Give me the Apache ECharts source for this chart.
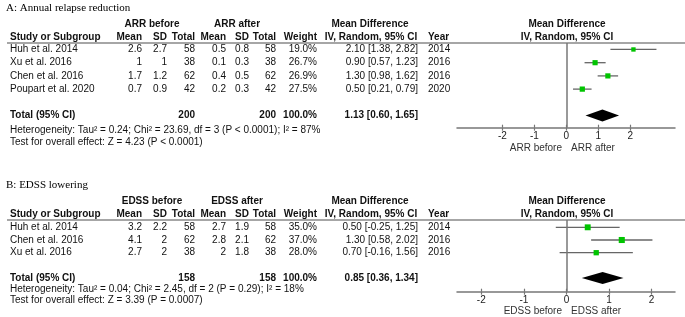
<!DOCTYPE html>
<html>
<head>
<meta charset="utf-8">
<script src="https://cdn.jsdelivr.net/npm/echarts@6/dist/echarts.min.js"></script>
<style>
  html, body { margin: 0; padding: 0; background: #fff; }
  #main { width: 685px; height: 317px; }
</style>
</head>
<body>
<div id="main"></div>
<script>
// ---- A: Annual relapse reduction ----
var studiesA = ['Huh et al. 2014', 'Xu et al. 2016', 'Chen et al. 2016', 'Poupart et al. 2020'];
var meanBeforeA = [2.6, 1, 1.7, 0.7];
var sdBeforeA = [2.7, 1, 1.2, 0.9];
var nBeforeA = [58, 38, 62, 42];
var meanAfterA = [0.5, 0.1, 0.4, 0.2];
var sdAfterA = [0.8, 0.3, 0.5, 0.3];
var nAfterA = [58, 38, 62, 42];
var weightA = [19.0, 26.7, 26.9, 27.5];
var mdA = [2.10, 0.90, 1.30, 0.50];
var loA = [1.38, 0.57, 0.98, 0.21];
var hiA = [2.82, 1.23, 1.62, 0.79];
var yearA = [2014, 2016, 2016, 2020];
var totalNA = [200, 200];
var totalA = [1.13, 0.60, 1.65];
var hetA = 'Heterogeneity: Tau\u00b2 = 0.24; Chi\u00b2 = 23.69, df = 3 (P < 0.0001); I\u00b2 = 87%';
var testA = 'Test for overall effect: Z = 4.23 (P < 0.0001)';

// ---- B: EDSS lowering ----
var studiesB = ['Huh et al. 2014', 'Chen et al. 2016', 'Xu et al. 2016'];
var meanBeforeB = [3.2, 4.1, 2.7];
var sdBeforeB = [2.2, 2, 2];
var nBeforeB = [58, 62, 38];
var meanAfterB = [2.7, 2.8, 2];
var sdAfterB = [1.9, 2.1, 1.8];
var nAfterB = [58, 62, 38];
var weightB = [35.0, 37.0, 28.0];
var mdB = [0.50, 1.30, 0.70];
var loB = [-0.25, 0.58, -0.16];
var hiB = [1.25, 2.02, 1.56];
var yearB = [2014, 2016, 2016];
var totalNB = [158, 158];
var totalB = [0.85, 0.36, 1.34];
var hetB = 'Heterogeneity: Tau\u00b2 = 0.04; Chi\u00b2 = 2.45, df = 2 (P = 0.29); I\u00b2 = 18%';
var testB = 'Test for overall effect: Z = 3.39 (P = 0.0007)';

var ticks = [-2, -1, 0, 1, 2];

var SANS = '"Liberation Sans", Arial, sans-serif';
var SERIF = '"Liberation Serif", "Times New Roman", serif';
var GRAY = '#777';

var chart = echarts.init(document.getElementById('main'));

function studyItem(params, api) {
  var row = api.value(3);
  var pl = api.coord([api.value(1), row]);
  var pr = api.coord([api.value(2), row]);
  var pm = api.coord([api.value(0), row]);
  var s = Math.sqrt(api.value(4));
  return {
    type: 'group',
    children: [
      { type: 'line', shape: { x1: pl[0], y1: pl[1], x2: pr[0], y2: pr[1] }, style: { stroke: '#666', lineWidth: 1.3 } },
      { type: 'rect', shape: { x: pm[0] - s / 2, y: pm[1] - s / 2, width: s, height: s }, style: { fill: '#00c400' } }
    ]
  };
}

function diamondItem(params, api) {
  var row = api.value(3);
  var pl = api.coord([api.value(1), row]);
  var pr = api.coord([api.value(2), row]);
  var pm = api.coord([api.value(0), row]);
  var h = 6;
  return {
    type: 'polygon',
    shape: { points: [[pl[0], pl[1]], [pm[0], pm[1] - h], [pr[0], pr[1]], [pm[0], pm[1] + h]] },
    style: { fill: '#000' }
  };
}

// two axes per grid so the ticks cross the axis line
function xAxes(grid, min, max) {
  return [{
    gridIndex: grid, type: 'value', min: min, max: max, position: 'bottom',
    splitLine: { show: false },
    axisLine: { onZero: false, lineStyle: { color: GRAY, width: 1.5 } },
    axisTick: { length: 3, customValues: ticks, lineStyle: { color: GRAY, width: 1.2 } },
    axisLabel: { customValues: ticks, margin: 4, fontSize: 10, color: '#222', fontFamily: SANS }
  }, {
    gridIndex: grid, type: 'value', min: min, max: max, position: 'bottom',
    splitLine: { show: false },
    axisLine: { show: false, onZero: false },
    axisTick: { inside: true, length: 3, customValues: ticks, lineStyle: { color: GRAY, width: 1.2 } },
    axisLabel: { show: false }
  }];
}

function panelSeries(grid, md, lo, hi, w, total, totalRow) {
  var xi = grid * 2;
  return [{
    type: 'custom', xAxisIndex: xi, yAxisIndex: grid,
    renderItem: studyItem,
    encode: { x: [1, 2], y: 3 },
    data: md.map(function (m, i) { return [m, lo[i], hi[i], i, w[i]]; })
  }, {
    type: 'custom', xAxisIndex: xi, yAxisIndex: grid,
    renderItem: diamondItem,
    encode: { x: [1, 2], y: 3 },
    data: [[total[0], total[1], total[2], totalRow]]
  }, {
    type: 'scatter', xAxisIndex: xi, yAxisIndex: grid, data: [],
    markLine: {
      silent: true, symbol: 'none', label: { show: false },
      lineStyle: { color: GRAY, width: 1.5, type: 'solid' },
      data: [{ xAxis: 0 }]
    }
  }];
}

var yA = { min: -0.49, max: 5.92 };
var yB = { min: -0.575, max: 5.07 };

chart.setOption({
  animation: false,
  grid: [
    { left: 457, right: 10, top: 43, height: 84.7 },
    { left: 457, right: 10, top: 220, height: 71.7 }
  ],
  xAxis: xAxes(0, -3.42, 3.4).concat(xAxes(1, -2.57, 2.55)),
  yAxis: [
    { gridIndex: 0, type: 'value', inverse: true, min: yA.min, max: yA.max, show: false },
    { gridIndex: 1, type: 'value', inverse: true, min: yB.min, max: yB.max, show: false }
  ],
  series: panelSeries(0, mdA, loA, hiA, weightA, totalA, 5)
    .concat(panelSeries(1, mdB, loB, hiB, weightB, totalB, 4))
});

// ---- table text ----
var col = { study: 10, mB: 142, sB: 167, nB: 195, mA: 226, sA: 249, nA: 276, w: 317, ci: 418, year: 428 };
var graphics = [];

function txt(x, y, s, align, bold, opts) {
  opts = opts || {};
  graphics.push({
    type: 'text', x: x, y: y, silent: true,
    style: {
      text: s,
      fontFamily: opts.family || SANS,
      fontSize: opts.size || 10,
      fontWeight: bold ? 'bold' : 'normal',
      fill: opts.color || '#111',
      align: align, textAlign: align,
      verticalAlign: 'middle', textVerticalAlign: 'middle'
    }
  });
}

function rowY(grid, i) {
  return chart.convertToPixel({ gridIndex: grid }, [0, i])[1];
}

function hline(y) {
  graphics.push({ type: 'line', silent: true, shape: { x1: 7, y1: y, x2: 685, y2: y }, style: { stroke: '#888', lineWidth: 1.5 } });
}

function fmtCI(m, l, h) {
  return m.toFixed(2) + ' [' + l.toFixed(2) + ', ' + h.toFixed(2) + ']';
}

function panel(o) {
  txt(6, o.titleY, o.title, 'left', false, { family: SERIF, size: 11, color: '#000' });
  var h1 = o.headY, h2 = o.headY + 13;
  txt(152, h1, o.before, 'center', true);
  txt(237, h1, o.after, 'center', true);
  txt(370, h1, 'Mean Difference', 'center', true);
  txt(567, h1, 'Mean Difference', 'center', true);
  txt(col.study, h2, 'Study or Subgroup', 'left', true);
  txt(col.mB, h2, 'Mean', 'right', true);
  txt(col.sB, h2, 'SD', 'right', true);
  txt(col.nB, h2, 'Total', 'right', true);
  txt(col.mA, h2, 'Mean', 'right', true);
  txt(col.sA, h2, 'SD', 'right', true);
  txt(col.nA, h2, 'Total', 'right', true);
  txt(col.w, h2, 'Weight', 'right', true);
  txt(371, h2, 'IV, Random, 95% CI', 'center', true);
  txt(col.year, h2, 'Year', 'left', true);
  txt(567, h2, 'IV, Random, 95% CI', 'center', true);
  hline(o.lineY);

  o.studies.forEach(function (s, i) {
    var y = rowY(o.grid, i);
    txt(col.study, y, s, 'left');
    txt(col.mB, y, String(o.mb[i]), 'right');
    txt(col.sB, y, String(o.sb[i]), 'right');
    txt(col.nB, y, String(o.nb[i]), 'right');
    txt(col.mA, y, String(o.ma[i]), 'right');
    txt(col.sA, y, String(o.sa[i]), 'right');
    txt(col.nA, y, String(o.na[i]), 'right');
    txt(col.w, y, o.w[i].toFixed(1) + '%', 'right');
    txt(col.ci, y, fmtCI(o.md[i], o.lo[i], o.hi[i]), 'right');
    txt(col.year, y, String(o.year[i]), 'left');
  });

  var ty = rowY(o.grid, o.totalRow);
  txt(col.study, ty, 'Total (95% CI)', 'left', true);
  txt(col.nB, ty, String(o.totalN[0]), 'right', true);
  txt(col.nA, ty, String(o.totalN[1]), 'right', true);
  txt(col.w, ty, '100.0%', 'right', true);
  txt(col.ci, ty, fmtCI(o.total[0], o.total[1], o.total[2]), 'right', true);
  txt(col.study, o.hetY, o.het, 'left');
  txt(col.study, o.testY, o.test, 'left');

  txt(562, o.favY, o.favL, 'right', false, { color: '#333' });
  txt(571, o.favY, o.favR, 'left', false, { color: '#333' });
}

panel({
  grid: 0, title: 'A: Annual relapse reduction', titleY: 8, headY: 24, lineY: 43,
  before: 'ARR before', after: 'ARR after',
  studies: studiesA, mb: meanBeforeA, sb: sdBeforeA, nb: nBeforeA,
  ma: meanAfterA, sa: sdAfterA, na: nAfterA, w: weightA,
  md: mdA, lo: loA, hi: hiA, year: yearA,
  totalRow: 5, totalN: totalNA, total: totalA,
  het: hetA, test: testA, hetY: 130, testY: 142.5,
  favY: 148, favL: 'ARR before', favR: 'ARR after'
});

panel({
  grid: 1, title: 'B: EDSS lowering', titleY: 185, headY: 201, lineY: 220,
  before: 'EDSS before', after: 'EDSS after',
  studies: studiesB, mb: meanBeforeB, sb: sdBeforeB, nb: nBeforeB,
  ma: meanAfterB, sa: sdAfterB, na: nAfterB, w: weightB,
  md: mdB, lo: loB, hi: hiB, year: yearB,
  totalRow: 4, totalN: totalNB, total: totalB,
  het: hetB, test: testB, hetY: 289, testY: 300,
  favY: 311.5, favL: 'EDSS before', favR: 'EDSS after'
});

chart.setOption({ graphic: graphics });
</script>
</body>
</html>
